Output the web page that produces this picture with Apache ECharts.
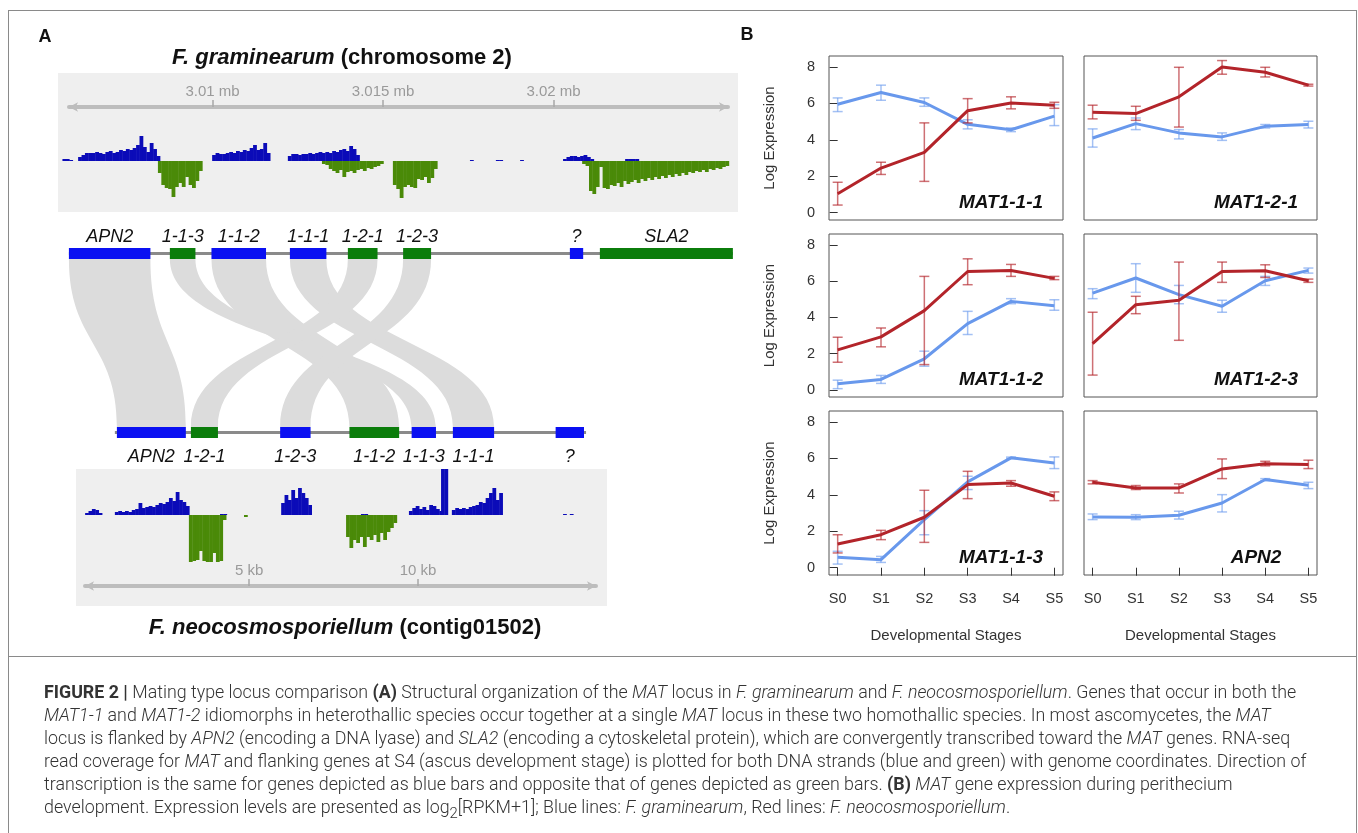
<!DOCTYPE html>
<html>
<head>
<meta charset="utf-8">
<script src="https://cdn.jsdelivr.net/npm/echarts@6/dist/echarts.min.js"></script>
<style>
  html, body { margin: 0; padding: 0; background: #fff; }
  #main { position: absolute; left: 0; top: 0; width: 1358px; height: 833px; }
  #frame { position: absolute; left: 8px; top: 10px; width: 1349px; height: 840px; border: 1px solid #8a8a8a; box-sizing: border-box; }
  #sep { position: absolute; left: 8px; top: 656px; width: 1349px; height: 0; border-top: 1px solid #8a8a8a; }
  #cap { position: absolute; left: 44px; top: 680px; font-family: Roboto, "Liberation Sans", sans-serif; font-weight: 300; font-size: 16px; color: #333; }
  #cap div { height: 23px; line-height: 23px; white-space: nowrap; }
  #cap b { font-weight: 700; }
  #cap sub { line-height: 0; }
</style>
</head>
<body>
<div id="frame"></div>
<div id="sep"></div>
<div id="main"></div>
<div id="cap">
  <div id="cap1"><b>FIGURE 2 |</b> Mating type locus comparison <b>(A)</b> Structural organization of the <i>MAT</i> locus in <i>F. graminearum</i> and <i>F. neocosmosporiellum</i>. Genes that occur in both the</div>
  <div><i>MAT1-1</i> and <i>MAT1-2</i> idiomorphs in heterothallic species occur together at a single <i>MAT</i> locus in these two homothallic species. In most ascomycetes, the <i>MAT</i></div>
  <div>locus is flanked by <i>APN2</i> (encoding a DNA lyase) and <i>SLA2</i> (encoding a cytoskeletal protein), which are convergently transcribed toward the <i>MAT</i> genes. RNA-seq</div>
  <div>read coverage for <i>MAT</i> and flanking genes at S4 (ascus development stage) is plotted for both DNA strands (blue and green) with genome coordinates. Direction of</div>
  <div>transcription is the same for genes depicted as blue bars and opposite that of genes depicted as green bars. <b>(B)</b> <i>MAT</i> gene expression during perithecium</div>
  <div>development. Expression levels are presented as log<sub>2</sub>[RPKM+1]; Blue lines: <i>F. graminearum</i>, Red lines: <i>F. neocosmosporiellum</i>.</div>
</div>
<script>
// ---- panel B: expression (log2[RPKM+1]) per stage ----
var stages = ['S0', 'S1', 'S2', 'S3', 'S4', 'S5'];
var panelGenes = ['MAT1-1-1', 'MAT1-2-1', 'MAT1-1-2', 'MAT1-2-3', 'MAT1-1-3', 'APN2'];

// F. graminearum (blue)
var fgMean = {
  'MAT1-1-1': [5.95, 6.6, 6.05, 4.85, 4.55, 5.3],
  'MAT1-2-1': [4.1, 4.89, 4.38, 4.16, 4.74, 4.84],
  'MAT1-1-2': [0.33, 0.57, 1.71, 3.65, 4.88, 4.64],
  'MAT1-2-3': [5.34, 6.17, 5.25, 4.61, 6.02, 6.59],
  'MAT1-1-3': [0.57, 0.44, 2.64, 4.71, 6.03, 5.75],
  'APN2':     [2.78, 2.77, 2.88, 3.55, 4.84, 4.52]
};
var fgLow = {
  'MAT1-1-1': [5.55, 6.17, 5.84, 4.6, 4.45, 4.78],
  'MAT1-2-1': [3.6, 4.56, 4.05, 3.97, 4.65, 4.65],
  'MAT1-1-2': [0.06, 0.35, 1.3, 3.05, 4.75, 4.39],
  'MAT1-2-3': [5.03, 5.38, 4.75, 4.28, 5.76, 6.44],
  'MAT1-1-3': [0.2, 0.29, 1.81, 4.29, 5.99, 5.44],
  'APN2':     [2.64, 2.64, 2.67, 3.06, 4.78, 4.34]
};
var fgHigh = {
  'MAT1-1-1': [6.3, 7.0, 6.3, 5.1, 4.65, 5.93],
  'MAT1-2-1': [4.6, 5.2, 4.56, 4.38, 4.84, 5.02],
  'MAT1-1-2': [0.53, 0.79, 2.13, 4.33, 5.03, 4.97],
  'MAT1-2-3': [5.58, 6.96, 5.76, 4.94, 6.26, 6.72],
  'MAT1-1-3': [0.9, 0.62, 3.13, 5.02, 6.07, 6.08],
  'APN2':     [2.95, 2.91, 3.1, 4.01, 4.89, 4.69]
};
// F. neocosmosporiellum (red)
var fnMean = {
  'MAT1-1-1': [1.04, 2.45, 3.31, 5.6, 6.02, 5.9],
  'MAT1-2-1': [5.51, 5.44, 6.36, 8.0, 7.71, 7.0],
  'MAT1-1-2': [2.2, 2.92, 4.37, 6.53, 6.59, 6.15],
  'MAT1-2-3': [2.55, 4.7, 4.94, 6.53, 6.57, 6.02],
  'MAT1-1-3': [1.3, 1.81, 2.77, 4.56, 4.65, 3.92],
  'APN2':     [4.69, 4.38, 4.38, 5.42, 5.71, 5.66]
};
var fnLow = {
  'MAT1-1-1': [0.42, 2.1, 1.72, 4.93, 5.7, 5.73],
  'MAT1-2-1': [5.15, 5.07, 4.7, 7.6, 7.45, 6.95],
  'MAT1-1-2': [1.52, 2.37, 1.39, 5.8, 6.26, 6.08],
  'MAT1-2-3': [0.81, 4.2, 2.73, 5.93, 6.2, 5.93],
  'MAT1-1-3': [0.81, 1.54, 1.39, 3.79, 4.47, 3.68],
  'APN2':     [4.6, 4.29, 4.1, 4.89, 5.59, 5.44]
};
var fnHigh = {
  'MAT1-1-1': [1.67, 2.77, 4.93, 6.26, 6.36, 6.06],
  'MAT1-2-1': [5.9, 5.84, 7.98, 8.35, 7.98, 7.05],
  'MAT1-1-2': [2.9, 3.41, 6.26, 7.23, 6.92, 6.26],
  'MAT1-2-3': [4.28, 5.16, 7.05, 7.05, 6.9, 6.11],
  'MAT1-1-3': [1.81, 2.05, 4.25, 5.29, 4.78, 4.16],
  'APN2':     [4.78, 4.51, 4.6, 5.97, 5.84, 5.9]
};

// ---- panel A: genes (kb) ----
var topGeneNames  = ['APN2', '1-1-3', '1-1-2', '1-1-1', '1-2-1', '1-2-3', '?', 'SLA2'];
var topGeneStart  = [3005.79, 3008.75, 3009.97, 3012.27, 3013.97, 3015.59, 3020.48, 3021.36];
var topGeneEnd    = [3008.18, 3009.50, 3011.57, 3013.34, 3014.84, 3016.41, 3020.87, 3025.26];
var topGeneStrand = [1, -1, 1, 1, -1, -1, 1, -1];
var topLocus = [3005.79, 3025.26];

var botGeneNames  = ['APN2', '1-2-1', '1-2-3', '1-1-2', '1-1-3', '1-1-1', '?'];
var botGeneStart  = [1.09, 3.28, 5.92, 7.97, 9.81, 11.03, 14.07];
var botGeneEnd    = [3.13, 4.08, 6.82, 9.44, 10.53, 12.25, 14.91];
var botGeneStrand = [1, -1, 1, -1, 1, 1, 1];
var botLocus = [1.03, 14.97];

// read coverage at S4, 0.1 kb bins: [start kb, heights]
var fgPlus = [
  [3005.60, [2, 2, 1]],
  [3006.06, [4, 6, 8, 8, 8, 9, 8, 7, 9, 10, 8, 9, 11, 10, 12, 11, 13, 16, 25, 14, 9, 18, 12, 5]],
  [3009.99, [6, 8, 7, 7, 8, 9, 8, 10, 9, 11, 10, 13, 16, 11, 12, 18, 8]],
  [3012.21, [5, 7, 7, 6, 7, 7, 8, 7, 8, 9, 8, 9, 8, 10, 9, 11, 12, 10, 15, 12, 6]],
  [3017.55, [1]],
  [3018.31, [1, 1]],
  [3019.02, [1]],
  [3020.28, [2, 4, 5, 5, 4, 5, 6, 4, 2]],
  [3022.10, [2, 2, 2, 2]]
];
var fgMinus = [
  [3008.40, [12, 24, 27, 28, 36, 26, 22, 26, 16, 24, 27, 20, 10]],
  [3013.21, [3, 4, 8, 10, 12, 9, 16, 11, 10, 12, 9, 8, 10, 7, 8, 6, 5, 3]],
  [3015.29, [24, 28, 37, 26, 24, 26, 27, 18, 19, 16, 22, 17, 8]],
  [3020.84, [3, 5, 30, 33, 26, 6, 27, 28, 24, 25, 22, 26, 20, 23, 21, 19, 22, 18, 20, 17, 19, 16, 18, 15, 17, 14, 16, 13, 15, 12, 14, 11, 12, 10, 11, 9, 11, 8, 9, 7, 8, 6, 5]]
];
var fnPlus = [
  [0.15, [2, 4, 6, 5, 2]],
  [1.03, [3, 4, 3, 4, 3, 5, 6, 12, 7, 8, 9, 8, 10, 12, 11, 13, 17, 14, 23, 15, 13, 9]],
  [4.14, [1, 1]],
  [5.95, [12, 20, 15, 25, 17, 27, 22, 17, 10]],
  [8.31, [1, 1]],
  [9.73, [4, 7, 9, 6, 8, 5, 10, 9, 6, 4]],
  [10.68, [46, 46]],
  [11.0, [5, 7, 6, 7, 6, 8, 9, 10, 13, 12, 17, 22, 27, 15, 22]],
  [14.29, [1, 0, 1]]
];
var fnMinus = [
  [3.22, [47, 46, 45, 36, 46, 47, 47, 38, 47, 46, 5]],
  [4.85, [2]],
  [7.87, [22, 33, 25, 28, 22, 32, 22, 25, 20, 27, 18, 25, 17, 13, 8]]
];

var FONT = '"Liberation Sans", Arial, sans-serif';
var RED = '#b3242a', BLUE = '#6898ec';
var GENE_BLUE = '#0a10f2', GENE_GREEN = '#0b7d0b';
var COV_BLUE = '#0b0bb8', COV_GREEN = '#4a8a08';

var chart = echarts.init(document.getElementById('main'));

function bins(segs, sign) {
  var out = [];
  segs.forEach(function (s) {
    s[1].forEach(function (v, i) {
      out.push([s[0] + i * 0.1, s[0] + (i + 1) * 0.1, sign * v]);
    });
  });
  return out;
}
function covItem(params, api) {
  var a = api.coord([api.value(0), 0]);
  var b = api.coord([api.value(1), api.value(2)]);
  return {
    type: 'rect',
    shape: { x: a[0], y: Math.min(a[1], b[1]), width: b[0] - a[0] + 0.4, height: Math.abs(b[1] - a[1]) },
    style: { fill: api.visual('color') }
  };
}
function geneItem(names, strands, below) {
  return function (params, api) {
    var a = api.coord([api.value(0), 1]);
    var b = api.coord([api.value(1), 0]);
    var cx = (a[0] + b[0]) / 2;
    return {
      type: 'group',
      children: [
        { type: 'rect', shape: { x: a[0], y: a[1], width: b[0] - a[0], height: b[1] - a[1] },
          style: { fill: strands[params.dataIndex] > 0 ? GENE_BLUE : GENE_GREEN } },
        { type: 'text', style: { text: names[params.dataIndex], x: cx, y: below ? b[1] + 19 : a[1] - 11,
          align: 'center', verticalAlign: 'middle', font: 'italic 18px ' + FONT, fill: '#111' } }
      ]
    };
  };
}
function ribbonItem(params, api) {
  var t0 = api.coord([api.value(0), 1]);
  var t1 = api.coord([api.value(1), 1]);
  var yb = api.coord([api.value(0), 0])[1];
  var b0 = chart.convertToPixel({ xAxisIndex: 4 }, api.value(2));
  var b1 = chart.convertToPixel({ xAxisIndex: 4 }, api.value(3));
  var ym = (t0[1] + yb) / 2;
  var d = 'M' + t0[0] + ' ' + t0[1] + ' C' + t0[0] + ' ' + ym + ' ' + b0 + ' ' + ym + ' ' + b0 + ' ' + yb +
          ' L' + b1 + ' ' + yb + ' C' + b1 + ' ' + ym + ' ' + t1[0] + ' ' + ym + ' ' + t1[0] + ' ' + t0[1] + ' Z';
  return { type: 'path', shape: { pathData: d }, style: { fill: '#dcdcdc' } };
}
function errItem(color) {
  return function (params, api) {
    var lo = api.coord([api.value(0), api.value(1)]);
    var hi = api.coord([api.value(0), api.value(2)]);
    var w = 5, st = { stroke: color, lineWidth: 1.5 };
    return {
      type: 'group',
      children: [
        { type: 'line', shape: { x1: lo[0], y1: lo[1], x2: hi[0], y2: hi[1] }, style: st },
        { type: 'line', shape: { x1: lo[0] - w, y1: lo[1], x2: lo[0] + w, y2: lo[1] }, style: st },
        { type: 'line', shape: { x1: hi[0] - w, y1: hi[1], x2: hi[0] + w, y2: hi[1] }, style: st }
      ]
    };
  };
}

var grids = [], xAxes = [], yAxes = [], series = [], graphics = [];
function hiddenAxes(g, xmin, xmax, ymin, ymax) {
  xAxes.push({ gridIndex: g, type: 'value', min: xmin, max: xmax, show: false });
  yAxes.push({ gridIndex: g, type: 'value', min: ymin, max: ymax, show: false });
}
function genomeAxis(g, xmin, xmax, ticks, fmt) {
  xAxes.push({
    gridIndex: g, type: 'value', min: xmin, max: xmax, position: 'top',
    axisLine: { show: true, onZero: false, symbol: ['arrow', 'arrow'], symbolSize: [7, 9],
      lineStyle: { color: '#bdbdbd', width: 4 } },
    axisTick: { show: true, customValues: ticks, length: 7, lineStyle: { color: '#a8a8a8', width: 1.5 } },
    axisLabel: { show: true, customValues: ticks, formatter: fmt, margin: 8, fontSize: 15, color: '#9a9a9a', fontFamily: FONT },
    splitLine: { show: false }
  });
  yAxes.push({ gridIndex: g, type: 'value', min: 0, max: 1, show: false });
}

// 0: top coverage
grids.push({ left: 58, top: 73, width: 680, height: 139, show: true, backgroundColor: '#efefef', borderWidth: 0 });
hiddenAxes(0, 3005.47, 3025.41, -51, 88);
// 1: top genome axis
grids.push({ left: 69, top: 107, width: 659, height: 1 });
genomeAxis(1, 3005.79, 3025.115, [3010, 3015, 3020], function (v) { return (v / 1000) + ' mb'; });
// 2: top gene track
grids.push({ left: 58, top: 248, width: 680, height: 11 });
hiddenAxes(2, 3005.47, 3025.41, 0, 1);
// 3: ribbons
grids.push({ left: 58, top: 259, width: 680, height: 168 });
hiddenAxes(3, 3005.47, 3025.41, 0, 1);
// 4: bottom gene track
grids.push({ left: 76, top: 427, width: 531, height: 11 });
hiddenAxes(4, -0.12, 15.59, 0, 1);
// 5: bottom coverage
grids.push({ left: 76, top: 469, width: 531, height: 137, show: true, backgroundColor: '#efefef', borderWidth: 0 });
hiddenAxes(5, -0.12, 15.59, -91, 46);
// 6: bottom genome axis
grids.push({ left: 85, top: 586, width: 511, height: 1 });
genomeAxis(6, 0.146, 15.264, [5, 10], function (v) { return v + ' kb'; });

series.push({ type: 'custom', xAxisIndex: 0, yAxisIndex: 0, data: bins(fgPlus, 1), encode: { x: [0, 1], y: 2 },
  itemStyle: { color: COV_BLUE }, renderItem: covItem, silent: true });
series.push({ type: 'custom', xAxisIndex: 0, yAxisIndex: 0, data: bins(fgMinus, -1), encode: { x: [0, 1], y: 2 },
  itemStyle: { color: COV_GREEN }, renderItem: covItem, silent: true });
series.push({ type: 'custom', xAxisIndex: 5, yAxisIndex: 5, data: bins(fnPlus, 1), encode: { x: [0, 1], y: 2 },
  itemStyle: { color: COV_BLUE }, renderItem: covItem, silent: true });
series.push({ type: 'custom', xAxisIndex: 5, yAxisIndex: 5, data: bins(fnMinus, -1), encode: { x: [0, 1], y: 2 },
  itemStyle: { color: COV_GREEN }, renderItem: covItem, silent: true });

series.push({ type: 'line', xAxisIndex: 2, yAxisIndex: 2, data: [[topLocus[0], 0.5], [topLocus[1], 0.5]],
  symbol: 'none', lineStyle: { color: '#8a8a8a', width: 3 }, silent: true, z: 1 });
series.push({ type: 'custom', xAxisIndex: 2, yAxisIndex: 2, z: 2, silent: true,
  data: topGeneStart.map(function (s, i) { return [s, topGeneEnd[i]]; }), encode: { x: [0, 1] },
  renderItem: geneItem(topGeneNames, topGeneStrand, false) });
series.push({ type: 'line', xAxisIndex: 4, yAxisIndex: 4, data: [[botLocus[0], 0.5], [botLocus[1], 0.5]],
  symbol: 'none', lineStyle: { color: '#8a8a8a', width: 3 }, silent: true, z: 1 });
series.push({ type: 'custom', xAxisIndex: 4, yAxisIndex: 4, z: 2, silent: true,
  data: botGeneStart.map(function (s, i) { return [s, botGeneEnd[i]]; }), encode: { x: [0, 1] },
  renderItem: geneItem(botGeneNames, botGeneStrand, true) });

// ribbons link the same gene in both genomes
var ribbons = [];
topGeneNames.forEach(function (n, i) {
  var j = botGeneNames.indexOf(n);
  if (j >= 0 && n !== '?') ribbons.push([topGeneStart[i], topGeneEnd[i], botGeneStart[j], botGeneEnd[j]]);
});
series.push({ type: 'custom', xAxisIndex: 3, yAxisIndex: 3, z: 0, silent: true, data: ribbons,
  encode: { x: [0, 1] }, renderItem: ribbonItem });

// ---- panel B grids ----
var colLeft = [829, 1084], colWidth = [234, 233];
var rowTop = [56, 234, 411], rowHeight = [164, 163, 164];
panelGenes.forEach(function (gene, k) {
  var col = k % 2, row = Math.floor(k / 2), g = 7 + k;
  grids.push({ left: colLeft[col], top: rowTop[row], width: colWidth[col], height: rowHeight[row],
    show: true, borderColor: '#555', borderWidth: 1 });
  xAxes.push({
    gridIndex: g, type: 'value', min: -0.2, max: 5.2, axisLine: { show: false }, splitLine: { show: false },
    axisTick: { show: row === 2, customValues: [0, 1, 2, 3, 4, 5], length: 8, lineStyle: { color: '#333' } },
    axisLabel: { show: row === 2, customValues: [0, 1, 2, 3, 4, 5], margin: 16, fontSize: 14.5, color: '#333', fontFamily: FONT,
      formatter: function (v) { return stages[Math.round(v)]; } },
    name: row === 2 ? 'Developmental Stages' : '', nameLocation: 'middle', nameGap: 53,
    nameTextStyle: { fontSize: 15, color: '#333', fontFamily: FONT }
  });
  yAxes.push({
    gridIndex: g, type: 'value', min: -0.4, max: 8.6, axisLine: { show: false }, splitLine: { show: false },
    axisTick: { show: col === 0, customValues: [0, 2, 4, 6, 8], length: 8, lineStyle: { color: '#333' } },
    axisLabel: { show: col === 0, customValues: [0, 2, 4, 6, 8], margin: 14, fontSize: 14.5, color: '#333', fontFamily: FONT },
    name: col === 0 ? 'Log Expression' : '', nameLocation: 'middle', nameGap: 52, nameRotate: 90,
    nameTextStyle: { fontSize: 15, color: '#333', fontFamily: FONT }
  });
  function pts(arr) { return arr.map(function (v, i) { return [i, v]; }); }
  function errs(lo, hi) { return lo.map(function (v, i) { return [i, v, hi[i]]; }); }
  series.push({ type: 'custom', xAxisIndex: g, yAxisIndex: g, z: 2, silent: true,
    data: errs(fgLow[gene], fgHigh[gene]), encode: { x: 0, y: [1, 2] }, renderItem: errItem('rgba(104,152,236,0.6)') });
  series.push({ type: 'line', xAxisIndex: g, yAxisIndex: g, z: 3, silent: true, data: pts(fgMean[gene]),
    symbol: 'none', lineStyle: { color: BLUE, width: 3 } });
  series.push({ type: 'custom', xAxisIndex: g, yAxisIndex: g, z: 4, silent: true,
    data: errs(fnLow[gene], fnHigh[gene]), encode: { x: 0, y: [1, 2] }, renderItem: errItem('rgba(179,36,42,0.65)') });
  series.push({ type: 'line', xAxisIndex: g, yAxisIndex: g, z: 5, silent: true, data: pts(fnMean[gene]),
    symbol: 'none', lineStyle: { color: RED, width: 3 } });
  graphics.push({ type: 'text', x: colLeft[col] + 172, y: rowTop[row] + rowHeight[row] - 17,
    style: { text: gene, align: 'center', verticalAlign: 'middle', font: 'italic bold 19px ' + FONT, fill: '#111' } });
});

graphics.push({ type: 'text', x: 45, y: 37, style: { text: 'A', align: 'center', verticalAlign: 'middle', font: 'bold 18px ' + FONT, fill: '#111' } });
graphics.push({ type: 'text', x: 747, y: 35, style: { text: 'B', align: 'center', verticalAlign: 'middle', font: 'bold 18px ' + FONT, fill: '#111' } });
graphics.push({ type: 'text', x: 342, y: 58, style: { text: '{i|F. graminearum} (chromosome 2)', align: 'center', verticalAlign: 'middle',
  font: 'bold 22px ' + FONT, fill: '#111', rich: { i: { fontStyle: 'italic', fontWeight: 'bold', fontSize: 22, fontFamily: FONT } } } });
graphics.push({ type: 'text', x: 345, y: 628, style: { text: '{i|F. neocosmosporiellum} (contig01502)', align: 'center', verticalAlign: 'middle',
  font: 'bold 22px ' + FONT, fill: '#111', rich: { i: { fontStyle: 'italic', fontWeight: 'bold', fontSize: 22, fontFamily: FONT } } } });

chart.setOption({
  animation: false,
  grid: grids,
  xAxis: xAxes,
  yAxis: yAxes,
  series: series,
  graphic: graphics
});

// fit caption first line to the reference width
var c1 = document.getElementById('cap1');
var w1 = c1.scrollWidth;
document.getElementById('cap').style.fontSize = (16 * 1263 / w1).toFixed(2) + 'px';
</script>
</body>
</html>
